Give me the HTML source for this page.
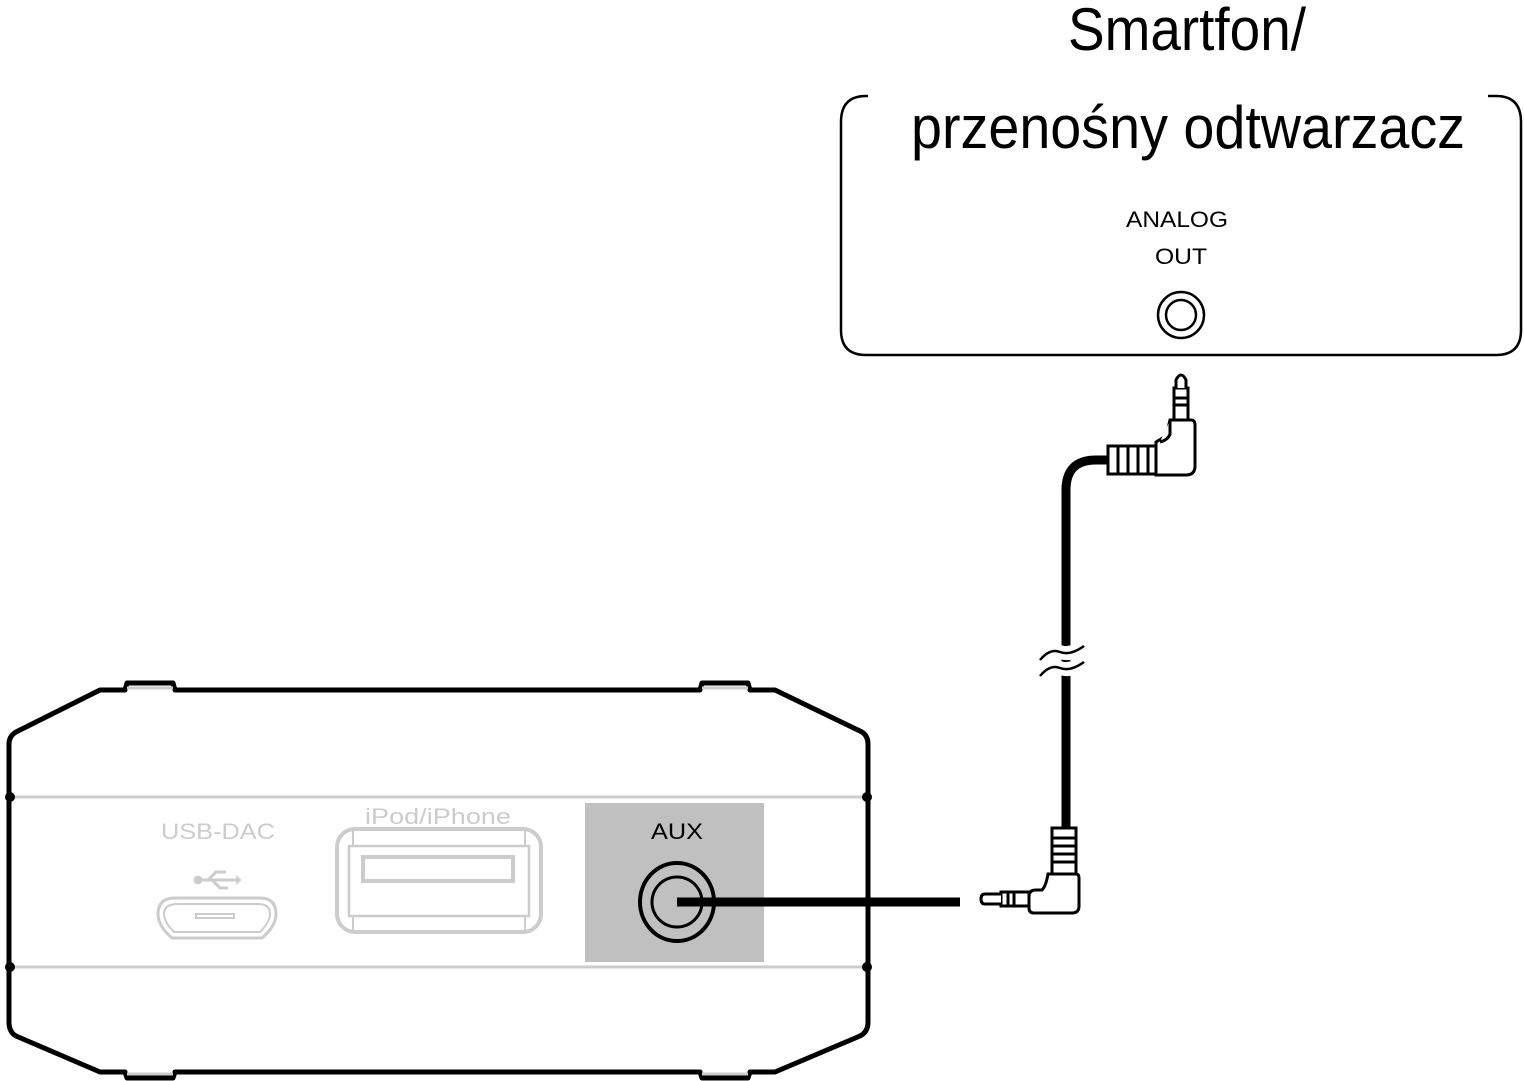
<!DOCTYPE html>
<html><head><meta charset="utf-8"><style>
html,body{margin:0;padding:0;background:#fff;width:1524px;height:1081px;overflow:hidden}
svg{display:block}
text{font-family:"Liberation Sans",sans-serif}
</style></head><body>
<svg width="1524" height="1081" viewBox="0 0 1524 1081" xmlns="http://www.w3.org/2000/svg">
<text x="1187" y="50" font-size="60" text-anchor="middle" textLength="238" lengthAdjust="spacingAndGlyphs">Smartfon/</text>
<text x="1188" y="148" font-size="60" text-anchor="middle" textLength="554" lengthAdjust="spacingAndGlyphs">przenośny odtwarzacz</text>
<path d="M868,96 L866,96 Q841,96 841,122 L841,330 Q841,355 866,355 L1496,355 Q1521,355 1521,330 L1521,122 Q1521,96 1496,96 L1488,96" fill="none" stroke="#000" stroke-width="2.5"/>
<text x="1177" y="227" font-size="22" text-anchor="middle" textLength="102" lengthAdjust="spacingAndGlyphs">ANALOG</text>
<text x="1181" y="264" font-size="22" text-anchor="middle" textLength="52" lengthAdjust="spacingAndGlyphs">OUT</text>
<circle cx="1181" cy="315" r="23" fill="none" stroke="#000" stroke-width="2.5"/>
<circle cx="1181" cy="315" r="15" fill="none" stroke="#000" stroke-width="2.5"/>

<path d="M1066,830 L1066,490 Q1066,460 1096,460 L1110,460" fill="none" stroke="#000" stroke-width="9"/>
<path d="M1040,660 q10,-12 20,-8 t24,-6 M1040,676 q10,-12 20,-8 t24,-6" fill="none" stroke="#fff" stroke-width="14"/>
<path d="M1040,660 q10,-12 20,-8 t24,-6 M1040,676 q10,-12 20,-8 t24,-6" fill="none" stroke="#000" stroke-width="2.5"/>
<g fill="#fff" stroke="#000" stroke-width="3">
<rect x="1108" y="446" width="50" height="28"/>
<path d="M1118,446 v28 M1128,446 v28 M1138,446 v28 M1148,446 v28" />
<path d="M1156,442 L1166,436 L1170,420 L1191,420 Q1195,420 1195,425 L1195,466 Q1195,475 1186,475 L1156,475 Z"/>
<path d="M1170,420 L1170,434 Q1168,440 1160,442"/>
<rect x="1174" y="388" width="14" height="32"/>
<path d="M1174,398 h14 M1174,405 h14 M1176,388 L1176,380 Q1181,370 1186,380 L1186,388"/>
</g>
<g fill="#fff" stroke="#000" stroke-width="3">
<rect x="1052" y="828" width="24" height="46"/>
<path d="M1052,838 h24 M1052,846 h24 M1052,854 h24 M1052,862 h24"/>
<path d="M1048,874 L1076,874 Q1079,874 1079,878 L1079,906 Q1079,913 1072,913 L1034,913 Q1029,913 1029,908 L1029,896 Q1029,890 1036,890 L1042,890 Q1046,886 1048,874 Z"/>
<rect x="1001" y="892" width="28" height="14"/>
<path d="M1008,892 v14 M1014,892 v14 M1001,894 L985,894 Q981,894 981,899 Q981,904 985,904 L1001,904"/>
</g>

<path d="M100,690 L125,690 L127,683 L173,683 L175,690 L700,690 L702,683 L748,683 L750,690 L775,690 L862,732 Q868,736 868,744 L868,1022 Q868,1032 860,1036 L775,1072 L750,1072 L748,1078 L702,1078 L700,1072 L175,1072 L173,1078 L127,1078 L125,1072 L100,1072 L16,1036 Q9,1032 9,1022 L9,744 Q9,736 16,732 Z" fill="#fff" stroke="#000" stroke-width="5" stroke-linejoin="round"/>
<path d="M127,688 h46 M702,688 h46 M127,1074 h46 M702,1074 h46" stroke="#ccc" stroke-width="3"/>
<line x1="12" y1="797" x2="866" y2="797" stroke="#ccc" stroke-width="3"/>
<line x1="12" y1="967" x2="866" y2="967" stroke="#ccc" stroke-width="3"/>
<circle cx="10" cy="797" r="5"/><circle cx="867" cy="797" r="5"/>
<circle cx="10" cy="967" r="5"/><circle cx="867" cy="967" r="5"/>
<rect x="585" y="803" width="179" height="159" fill="#c0c0c0"/>
<text x="677" y="839" font-size="22" text-anchor="middle" textLength="52" lengthAdjust="spacingAndGlyphs">AUX</text>
<ellipse cx="677" cy="902" rx="37" ry="39" fill="none" stroke="#000" stroke-width="4"/>
<circle cx="677" cy="902" r="25" fill="none" stroke="#000" stroke-width="3"/>
<line x1="677" y1="902" x2="960" y2="902" stroke="#000" stroke-width="9"/>

<g stroke="#ccc" fill="none" stroke-width="3">
<text x="218" y="839" font-size="22" text-anchor="middle" fill="#ccc" stroke="none" textLength="114" lengthAdjust="spacingAndGlyphs">USB-DAC</text>
<path d="M198,880 h38 M208,880 l8,-8 h10 M212,880 l8,8 h8"/>
<circle cx="198" cy="880" r="3" fill="#ccc"/>
<path d="M236,876 l5,4 l-5,4" fill="#ccc" stroke-width="1"/>
<path d="M175,898 L260,898 Q276,898 276,914 Q276,926 262,938 L172,938 Q158,926 158,914 Q158,898 175,898 Z"/>
<path d="M178,904 L258,904 Q270,904 270,914 Q270,922 260,932 L174,932 Q164,922 164,914 Q164,904 178,904 Z" stroke-width="2"/>
<path d="M196,914 h38 v4 h-38 z" stroke-width="2"/>
</g>
<text x="438" y="824" font-size="22" text-anchor="middle" fill="#ccc" textLength="146" lengthAdjust="spacingAndGlyphs">iPod/iPhone</text>
<g stroke="#ccc" fill="none">
<rect x="337" y="829" width="204" height="103" rx="18" stroke-width="4"/>
<rect x="349" y="846" width="180" height="70" stroke-width="2.5"/>
<path d="M353,831 v15 M525,831 v15 M353,916 v14 M525,916 v14" stroke-width="2"/>
<rect x="363" y="857" width="150" height="24" stroke-width="4"/>
</g>
</svg>
</body></html>
